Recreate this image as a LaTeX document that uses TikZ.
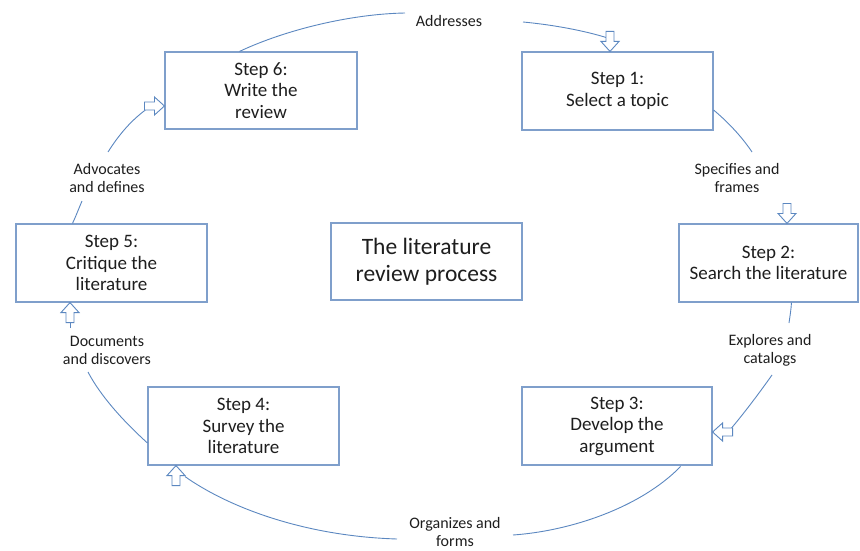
\documentclass[tikz,border=0pt]{standalone}
\usepackage{fontspec}
\setmainfont{Carlito}
\usetikzlibrary{shadows,calc}
\definecolor{boxline}{HTML}{7F9FCB}
\definecolor{conn}{HTML}{5B87C0}
\definecolor{txt}{HTML}{1E1E1E}
\tikzset{
  stepbox/.style={draw=boxline, line width=1.1pt, fill=white, text=txt,
    align=center, minimum height=78pt, inner sep=2pt,
    font=\fontsize{19}{21.5}\selectfont,
    drop shadow={shadow xshift=1.3pt, shadow yshift=-1.3pt, fill=black, opacity=0.22}},
  centerbox/.style={stepbox, font=\fontsize{23.5}{27}\selectfont},
  lbl/.style={text=txt, align=center, inner sep=1pt, font=\fontsize{16}{18}\selectfont},
  conline/.style={draw=conn, line width=0.9pt},
  blockarrow/.pic={
    \draw[conn, line width=0.9pt, fill=white, line join=miter]
      (0,0) -- (-10,9) -- (-10,4) -- (-20,4) -- (-20,-4) -- (-10,-4) -- (-10,-9) -- cycle;
  }
}
\begin{document}
\begin{tikzpicture}[x=1pt,y=-1pt]
\useasboundingbox (0,0) rectangle (860,551);

% boxes
\node[stepbox, minimum width=191pt] (s1) at (617.5,91) {Step 1:\\Select a topic};
\node[stepbox, minimum width=179pt] (s2) at (768.5,263) {Step 2:\\Search the literature};
\node[stepbox, minimum width=190pt] (s3) at (617,426) {Step 3:\\Develop the\\argument};
\node[stepbox, minimum width=191pt] (s4) at (243.5,426) {Step 4:\\Survey the\\literature};
\node[stepbox, minimum width=191pt] (s5) at (111.5,263) {Step 5:\\Critique the\\literature};
\node[stepbox, minimum width=192pt, minimum height=77pt] (s6) at (261,90.5) {Step 6:\\Write the\\review};
\node[centerbox, minimum width=191pt, minimum height=77pt] (ctr) at (426.5,261.5) {The literature\\review process};

% labels
\node[lbl] (addr) at (449,21) {Addresses};
\node[lbl] (spec) at (737,178) {Specifies and\\frames};
\node[lbl] (expl) at (770,350) {Explores and\\catalogs};
\node[lbl] (orga) at (455,532) {Organizes and\\forms};
\node[lbl] (docu) at (107,350) {Documents\\and discovers};
\node[lbl] (advo) at (107,178) {Advocates\\and defines};

% free ends of the connectors near the labels
\coordinate (e1a) at (405,13);
\coordinate (e1b) at (523,22);
\coordinate (e2a) at (752,152);
\coordinate (e3a) at (789,323);
\coordinate (e3b) at (772,375);
\coordinate (e4a) at (513,535);
\coordinate (e4b) at (397,539);
\coordinate (e5a) at (88,372);
\coordinate (e5b) at (70,328);
\coordinate (e6a) at (82,201);
\coordinate (e6b) at (108,152);

% arrow tips on the boxes
\coordinate (t1) at ($(s1.north)+(-7.5,0)$);
\coordinate (t2) at ($(s2.north)+(18.5,0)$);
\coordinate (t3) at ($(s3.east)+(0,6)$);
\coordinate (t4) at ($(s4.south)+(-67.5,0)$);
\coordinate (t5) at ($(s5.south)+(-41.5,0)$);
\coordinate (t6) at ($(s6.west)+(0,15.5)$);

% connectors
\draw[conline] ($(s6.north west)+(75,0)$) .. controls (285,30) and (350,14) .. (e1a);
\draw[conline] (e1b) .. controls (555,25) and (585,31) .. ($(t1)+(-4,-14)$);
\draw[conline] ($(s1.east)+(0,19)$) .. controls (728,122) and (742,137) .. (e2a);
\draw[conline] ($(s2.south)+(23,0)$) .. controls (791,310) and (790,316) .. (e3a);
\draw[conline] (e3b) .. controls (760,392) and (745,412) .. ($(t3)+(19,-4)$);
\draw[conline] ($(s3.south east)+(-32,1)$) .. controls (640,508) and (570,531) .. (e4a);
\draw[conline] (e4b) .. controls (300,536) and (225,505) .. ($(t4)+(9,11)$);
\draw[conline] ($(s4.west)+(0,17)$) .. controls (122,420) and (100,395) .. (e5a);
\draw[conline] (e5b) -- ($(t5)+(0,20)$);
\draw[conline] ($(s5.north west)+(57,0)$) .. controls (76,216) and (79,208) .. (e6a);
\draw[conline] (e6b) .. controls (120,133) and (132,120) .. ($(t6)+(-19,4)$);

% block arrows
\pic[rotate=-90] at (t1) {blockarrow};
\pic[rotate=-90] at (t2) {blockarrow};
\pic[rotate=180] at (t3) {blockarrow};
\pic[rotate=90] at (t4) {blockarrow};
\pic[rotate=90] at (t5) {blockarrow};
\pic at (t6) {blockarrow};
\end{tikzpicture}
\end{document}
